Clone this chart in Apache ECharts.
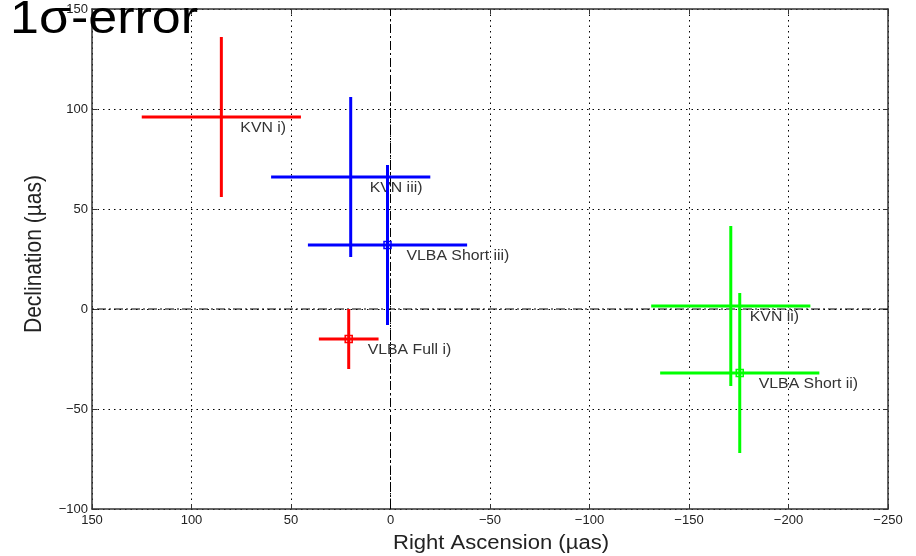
<!DOCTYPE html>
<html>
<head>
<meta charset="utf-8">
<script src="https://cdn.jsdelivr.net/npm/echarts@6/dist/echarts.min.js"></script>
<style>
html,body{margin:0;padding:0;background:#fff;}
#chart{width:916px;height:556px;}
</style>
</head>
<body>
<div id="chart"></div>
<script>
// Data (µas)
const names   = ['KVN i)', 'KVN iii)', 'VLBA Short iii)', 'VLBA Full i)', 'KVN ii)', 'VLBA Short ii)'];
const ra      = [85, 20, 1.5, 21, -171, -175.5];
const dec     = [96, 66, 32, -15, 1.5, -32];
const raErr   = [40, 40, 40, 15, 40, 40];
const decErr  = [40, 40, 40, 15, 40, 40];
const xTicks  = [150, 100, 50, 0, -50, -100, -150, -200, -250];
const yTicks  = [-100, -50, 0, 50, 100, 150];
const titleText = '1\u03c3-error';
const xName = 'Right Ascension (\u00b5as)';
const yName = 'Declination (\u00b5as)';

const caseColor = { 'i)': '#ff0000', 'ii)': '#00ff00', 'iii)': '#0000ff' };
function colorOf(name) { const p = name.split(' '); return caseColor[p[p.length - 1]]; }

const fmt = v => (v < 0 ? '\u2212' + Math.abs(v) : String(v));
const tickFont = { fontFamily: 'Arial, Liberation Sans, sans-serif', fontSize: 13, color: '#222' };
const SX = 1.13; // horizontal stretch of text in the reference

const points = names.map((n, i) => ({ name: n, value: [ra[i], dec[i], raErr[i], decErr[i]] }));

const chart = echarts.init(document.getElementById('chart'), null, { renderer: 'canvas' });

const option = {
  animation: false,
  backgroundColor: '#fff',
  grid: { left: 92, right: 28, top: 9, bottom: 47, show: false, outerBoundsMode: 'none', containLabel: false },
  graphic: [
    { type: 'text', x: 10, y: -3, z: 100, scaleX: SX,
      style: { text: titleText, fontFamily: 'Arial, Liberation Sans, sans-serif', fontSize: 46, fill: '#000',
               align: 'left', verticalAlign: 'top' } },
    { type: 'text', x: 501, y: 544, z: 100, scaleX: SX,
      style: { text: xName, fontFamily: 'Arial, Liberation Sans, sans-serif', fontSize: 19.5, fill: '#222',
               align: 'center', verticalAlign: 'middle' } },
    { type: 'text', x: 34, y: 254, z: 100, rotation: Math.PI / 2, scaleY: SX,
      style: { text: yName, fontFamily: 'Arial, Liberation Sans, sans-serif', fontSize: 21, fill: '#222',
               align: 'center', verticalAlign: 'middle' } }
  ],
  xAxis: [{
    type: 'value', min: -250, max: 150, interval: 50, inverse: true,
    axisLine: { onZero: false, lineStyle: { color: '#333', width: 1.5 } },
    axisTick: { inside: true, length: 5, lineStyle: { color: '#333' } },
    axisLabel: Object.assign({ margin: 5, formatter: fmt, customValues: xTicks }, tickFont),
    splitLine: { show: true, lineStyle: { color: '#000', width: 1, type: [1.5, 4] } }
  }, {
    type: 'value', min: -250, max: 150, interval: 50, inverse: true, position: 'top',
    axisLine: { onZero: false, lineStyle: { color: '#333', width: 1.5 } },
    axisTick: { inside: true, length: 5, lineStyle: { color: '#333' } },
    axisLabel: { show: false }, splitLine: { show: false }
  }],
  yAxis: [{
    type: 'value', min: -100, max: 150, interval: 50,
    axisLine: { show: true, onZero: false, lineStyle: { color: '#333', width: 1.5 } },
    axisTick: { show: true, inside: true, length: 5, lineStyle: { color: '#333' } },
    axisLabel: Object.assign({ margin: 4, formatter: fmt, customValues: yTicks }, tickFont),
    splitLine: { show: true, lineStyle: { color: '#000', width: 1, type: [1.5, 4] } }
  }, {
    type: 'value', min: -100, max: 150, interval: 50, position: 'right',
    axisLine: { show: true, onZero: false, lineStyle: { color: '#333', width: 1.5 } },
    axisTick: { show: true, inside: true, length: 5, lineStyle: { color: '#333' } },
    axisLabel: { show: false }, splitLine: { show: false }
  }],
  series: [
    {
      type: 'line', xAxisIndex: 0, yAxisIndex: 0, symbol: 'none', silent: true, z: 1,
      data: [[0, -100], [0, 150]],
      lineStyle: { color: '#000', width: 1, type: [9, 3, 2, 3] }
    },
    {
      type: 'line', xAxisIndex: 0, yAxisIndex: 0, symbol: 'none', silent: true, z: 1,
      data: [[-250, 0], [150, 0]],
      lineStyle: { color: '#000', width: 1, type: [9, 3, 2, 3] }
    },
    {
      type: 'custom', xAxisIndex: 0, yAxisIndex: 0, z: 5,
      data: points,
      renderItem: function (params, api) {
        const x = api.value(0), y = api.value(1), ex = api.value(2), ey = api.value(3);
        const name = names[params.dataIndex];
        const col = colorOf(name);
        const c = api.coord([x, y]);
        const l = api.coord([x + ex, y]);
        const r = api.coord([x - ex, y]);
        const t = api.coord([x, y + ey]);
        const b = api.coord([x, y - ey]);
        const ls = { stroke: col, lineWidth: 3 };
        const children = [
          { type: 'line', shape: { x1: l[0], y1: l[1], x2: r[0], y2: r[1] }, style: ls },
          { type: 'line', shape: { x1: t[0], y1: t[1], x2: b[0], y2: b[1] }, style: ls }
        ];
        if (name.indexOf('VLBA') === 0) {
          children.push({ type: 'rect', shape: { x: c[0] - 3.5, y: c[1] - 3.5, width: 7, height: 7 },
            style: { stroke: col, fill: 'none', lineWidth: 1.5 } });
        }
        children.push({ type: 'text', x: c[0] + 19, y: c[1] + 11, scaleX: SX,
          style: { text: name, fill: '#333', fontSize: 14, fontFamily: 'Arial, Liberation Sans, sans-serif',
                   verticalAlign: 'middle', align: 'left' } });
        return { type: 'group', children: children };
      }
    }
  ]
};
chart.setOption(option);
</script>
</body>
</html>
